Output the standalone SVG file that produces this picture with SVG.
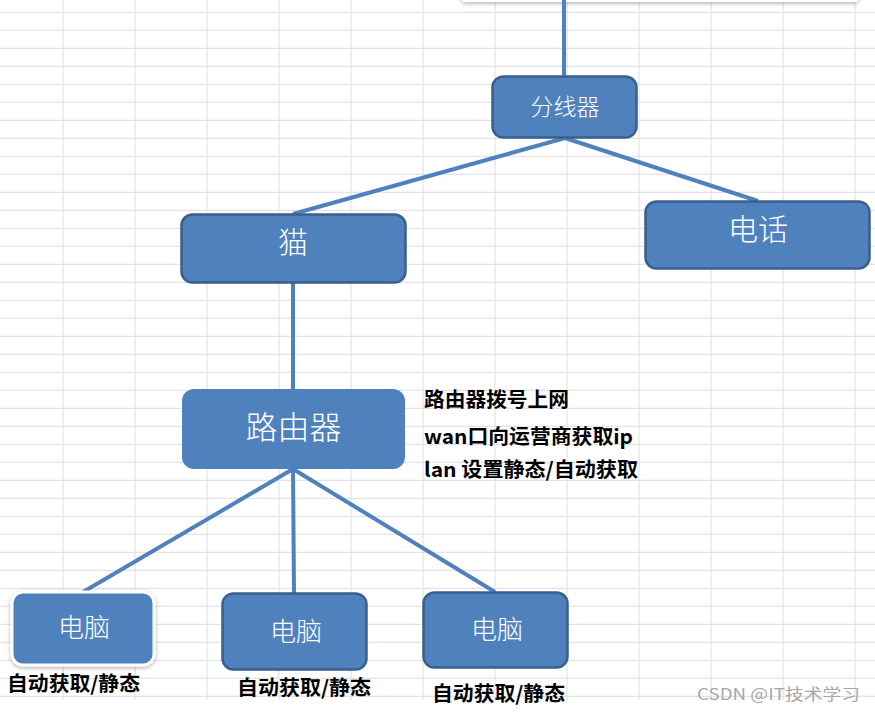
<svg xmlns="http://www.w3.org/2000/svg" width="875" height="713" viewBox="0 0 875 713">
  <defs>
    <style>
      .grid line { stroke: #E3E3E3; stroke-width: 1.2; }
      .conn line { stroke: #4F81BD; stroke-width: 4; stroke-linecap: butt; }
      .box { fill: #4F81BD; stroke: #3A5F8D; stroke-width: 2.5; }
      .box-flat { fill: #4F81BD; stroke: none; }
      .box-sel { fill: #4F81BD; stroke: #FFFFFF; stroke-width: 3; }
      .lbl { fill: #FFFFFF; font-family: "Noto Sans CJK SC", "Microsoft YaHei", sans-serif; font-weight: 300; text-anchor: middle; }
      .note { fill: #000000; font-family: "Noto Sans CJK SC", "Microsoft YaHei", sans-serif; font-weight: 700; font-size: 20px; }
      .wm { fill: #A8A8A8; font-family: "Noto Sans CJK SC", "Noto Sans", sans-serif; font-size: 16px; }
    </style>
    <filter id="shadow" x="-20%" y="-20%" width="140%" height="160%">
      <feDropShadow dx="0" dy="1.5" stdDeviation="2" flood-color="#000000" flood-opacity="0.3"/>
    </filter>
  </defs>

  <rect x="0" y="0" width="875" height="713" fill="#FFFFFF"/>

  <g id="grid" class="grid">
    <line x1="63" y1="0" x2="63" y2="700"/>
    <line x1="135" y1="0" x2="135" y2="700"/>
    <line x1="207" y1="0" x2="207" y2="700"/>
    <line x1="279" y1="0" x2="279" y2="700"/>
    <line x1="351" y1="0" x2="351" y2="700"/>
    <line x1="423" y1="0" x2="423" y2="700"/>
    <line x1="495" y1="0" x2="495" y2="700"/>
    <line x1="567" y1="0" x2="567" y2="700"/>
    <line x1="639" y1="0" x2="639" y2="700"/>
    <line x1="711" y1="0" x2="711" y2="700"/>
    <line x1="783" y1="0" x2="783" y2="700"/>
    <line x1="855" y1="0" x2="855" y2="700"/>
    <line x1="0" y1="12.3" x2="875" y2="12.3"/>
    <line x1="0" y1="30.3" x2="875" y2="30.3"/>
    <line x1="0" y1="48.3" x2="875" y2="48.3"/>
    <line x1="0" y1="66.3" x2="875" y2="66.3"/>
    <line x1="0" y1="84.3" x2="875" y2="84.3"/>
    <line x1="0" y1="102.3" x2="875" y2="102.3"/>
    <line x1="0" y1="120.3" x2="875" y2="120.3"/>
    <line x1="0" y1="138.3" x2="875" y2="138.3"/>
    <line x1="0" y1="156.3" x2="875" y2="156.3"/>
    <line x1="0" y1="174.3" x2="875" y2="174.3"/>
    <line x1="0" y1="192.3" x2="875" y2="192.3"/>
    <line x1="0" y1="210.3" x2="875" y2="210.3"/>
    <line x1="0" y1="228.3" x2="875" y2="228.3"/>
    <line x1="0" y1="246.3" x2="875" y2="246.3"/>
    <line x1="0" y1="264.3" x2="875" y2="264.3"/>
    <line x1="0" y1="282.3" x2="875" y2="282.3"/>
    <line x1="0" y1="300.3" x2="875" y2="300.3"/>
    <line x1="0" y1="318.3" x2="875" y2="318.3"/>
    <line x1="0" y1="336.3" x2="875" y2="336.3"/>
    <line x1="0" y1="354.3" x2="875" y2="354.3"/>
    <line x1="0" y1="372.3" x2="875" y2="372.3"/>
    <line x1="0" y1="390.3" x2="875" y2="390.3"/>
    <line x1="0" y1="408.3" x2="875" y2="408.3"/>
    <line x1="0" y1="426.3" x2="875" y2="426.3"/>
    <line x1="0" y1="444.3" x2="875" y2="444.3"/>
    <line x1="0" y1="462.3" x2="875" y2="462.3"/>
    <line x1="0" y1="480.3" x2="875" y2="480.3"/>
    <line x1="0" y1="498.3" x2="875" y2="498.3"/>
    <line x1="0" y1="516.3" x2="875" y2="516.3"/>
    <line x1="0" y1="534.3" x2="875" y2="534.3"/>
    <line x1="0" y1="552.3" x2="875" y2="552.3"/>
    <line x1="0" y1="570.3" x2="875" y2="570.3"/>
    <line x1="0" y1="588.3" x2="875" y2="588.3"/>
    <line x1="0" y1="606.3" x2="875" y2="606.3"/>
    <line x1="0" y1="624.3" x2="875" y2="624.3"/>
    <line x1="0" y1="642.3" x2="875" y2="642.3"/>
    <line x1="0" y1="660.3" x2="875" y2="660.3"/>
    <line x1="0" y1="678.3" x2="875" y2="678.3"/>
    <line x1="0" y1="696.3" x2="875" y2="696.3"/>
  </g>

  <rect id="top-panel" x="462" y="-20" width="396" height="22" rx="3" fill="#FFFFFF" filter="url(#shadow)"/>

  <g id="connectors" class="conn">
    <line x1="564" y1="0" x2="564" y2="77"/>
    <line x1="565" y1="138" x2="293" y2="214"/>
    <line x1="565" y1="138" x2="758" y2="201"/>
    <line x1="293" y1="283" x2="293" y2="389"/>
    <line x1="293" y1="469" x2="83" y2="592"/>
    <line x1="293" y1="469" x2="294" y2="593"/>
    <line x1="293" y1="469" x2="495" y2="592"/>
  </g>

  <g id="splitter">
    <rect class="box" x="492.5" y="76.5" width="144" height="61" rx="11"/>
    <text class="lbl" x="565" y="115" font-size="23">分线器</text>
  </g>

  <g id="modem">
    <rect class="box" x="181.5" y="214.5" width="224" height="68" rx="11"/>
    <text class="lbl" x="293" y="253" font-size="30">猫</text>
  </g>

  <g id="phone">
    <rect class="box" x="645.5" y="201.5" width="224" height="67" rx="11"/>
    <text class="lbl" x="758" y="240" font-size="30">电话</text>
  </g>

  <g id="router">
    <rect class="box-flat" x="182" y="389" width="223" height="80" rx="12"/>
    <text class="lbl" x="293.5" y="439" font-size="32">路由器</text>
  </g>

  <g id="pc1">
    <rect class="box-sel" x="12" y="592" width="142" height="73" rx="11" filter="url(#shadow)"/>
    <text class="lbl" x="84" y="637" font-size="26">电脑</text>
  </g>

  <g id="pc2">
    <rect class="box" x="222.5" y="593.5" width="144" height="76" rx="11"/>
    <text class="lbl" x="296" y="641" font-size="26">电脑</text>
  </g>

  <g id="pc3">
    <rect class="box" x="423.5" y="592.5" width="144" height="75" rx="11"/>
    <text class="lbl" x="497" y="639" font-size="26">电脑</text>
  </g>

  <g id="notes">
    <text class="note" x="424" y="407" textLength="145" lengthAdjust="spacingAndGlyphs">路由器拨号上网</text>
    <text class="note" x="424" y="444" textLength="209" lengthAdjust="spacingAndGlyphs">wan口向运营商获取ip</text>
    <text class="note" x="424" y="477" textLength="214" lengthAdjust="spacingAndGlyphs">lan 设置静态/自动获取</text>
    <text class="note" x="7" y="691" textLength="133" lengthAdjust="spacingAndGlyphs">自动获取/静态</text>
    <text class="note" x="237" y="695" textLength="134" lengthAdjust="spacingAndGlyphs">自动获取/静态</text>
    <text class="note" x="432" y="701" textLength="133" lengthAdjust="spacingAndGlyphs">自动获取/静态</text>
  </g>

  <text id="watermark" class="wm" x="697" y="700" textLength="163" lengthAdjust="spacingAndGlyphs">CSDN @IT技术学习</text>
</svg>
